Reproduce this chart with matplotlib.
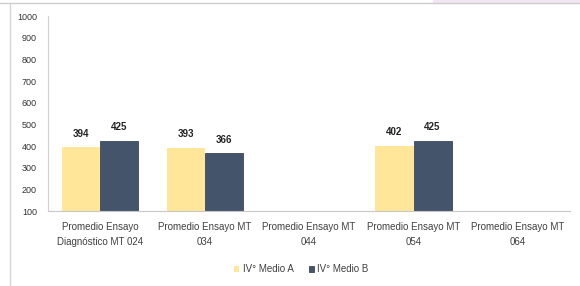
import numpy as np
import matplotlib
matplotlib.use("Agg")
import matplotlib.pyplot as plt
from matplotlib.patches import Rectangle

categorias = ["Promedio Ensayo\nDiagnóstico MT 024", "Promedio Ensayo MT\n034",
              "Promedio Ensayo MT\n044", "Promedio Ensayo MT\n054",
              "Promedio Ensayo MT\n064"]
medio_a = [394, 393, np.nan, 402, np.nan]
medio_b = [425, 366, np.nan, 425, np.nan]
series = ["IV° Medio A", "IV° Medio B"]
yticks = [100, 200, 300, 400, 500, 600, 700, 800, 900, 1000]

plt.rcParams['font.family'] = ['Liberation Sans Narrow', 'Liberation Sans', 'DejaVu Sans']

fig = plt.figure(figsize=(5.8, 2.86), dpi=100)
ax = fig.add_axes([0.0828, 0.2622, 0.9002, 0.6818])

x = np.arange(len(categorias))
w = 0.365
b1 = ax.bar(x - w/2, np.array(medio_a) - 100, w, bottom=100, color="#FFE699", label=series[0])
b2 = ax.bar(x + w/2, np.array(medio_b) - 100, w, bottom=100, color="#44546A",
            edgecolor="#3a475a", linewidth=0.6, label=series[1])

for bars, vals in [(b1, medio_a), (b2, medio_b)]:
    for r, v in zip(bars, vals):
        if np.isnan(v):
            continue
        ax.annotate(str(int(v)), (r.get_x() + r.get_width()/2, v), xytext=(0, 6),
                    textcoords="offset points", ha="center", va="bottom",
                    fontsize=7, fontweight="bold", color="#222222")

ax.set_xlim(-0.5, len(categorias) - 0.5)
ax.set_ylim(100, 1000)
ax.set_yticks(yticks)
ax.set_yticklabels([str(t) for t in yticks], fontsize=6.5, color="#333333")
ax.set_xticks(x)
ax.set_xticklabels(categorias, fontsize=7, color="#404040", linespacing=1.6)
ax.tick_params(length=0, pad=8)
ax.tick_params(axis="x", pad=8)
for s in ["top", "right"]:
    ax.spines[s].set_visible(False)
ax.spines["left"].set_color("#d0d0d0")
ax.spines["bottom"].set_color("#c8c8c8")

leg = fig.legend(handles=[b1, b2], labels=series, loc="center", bbox_to_anchor=(0.52, 0.058),
                 ncol=2, frameon=False, fontsize=7, handlelength=0.5, handleheight=0.5,
                 handletextpad=0.4, columnspacing=1.5)
for t in leg.get_texts():
    t.set_color("#404040")

# outer frame lines
fig.add_artist(Rectangle((433/580, 1 - 3/286), 1, 3/286, transform=fig.transFigure,
                         color="#f3e6f2", lw=0))
fig.add_artist(plt.Line2D([0, 1], [1 - 3/286, 1 - 3/286], transform=fig.transFigure,
                          color="#cccccc", lw=1))
fig.add_artist(plt.Line2D([10/580, 10/580], [0, 1 - 3/286], transform=fig.transFigure,
                          color="#d6d6d6", lw=1))

fig.savefig("out.png", dpi=100)
